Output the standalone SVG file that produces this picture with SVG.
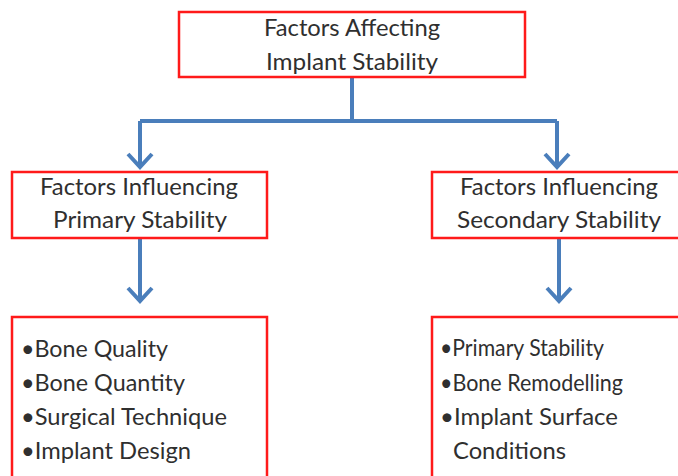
<svg xmlns="http://www.w3.org/2000/svg" width="678" height="476" viewBox="0 0 678 476">
<style>
.box{fill:#fff;stroke:#ff1a1a;stroke-width:2.5}
.t{font-family:Lato,"Open Sans","Liberation Sans",sans-serif;font-size:23.5px;fill:#2f2f2f}
.c{text-anchor:middle}
.ln{fill:none;stroke:#4a7ebb;stroke-width:4}
</style>
<rect width="678" height="476" fill="#fff"/>
<g id="connectors">
<path class="ln" d="M352,77 V121"/>
<path class="ln" d="M140,121 H557"/>
<path class="ln" d="M140,121 V166"/>
<path class="ln" d="M557,121 V166"/>
<path class="ln" d="M128,154 L140,167 L152,154"/>
<path class="ln" d="M545,154 L557,167 L569,154"/>
<path class="ln" d="M140,238 V300"/>
<path class="ln" d="M128,288 L140,301 L152,288"/>
<path class="ln" d="M559,238 V300"/>
<path class="ln" d="M547,288 L559,301 L571,288"/>
</g>
<g id="root">
<rect class="box" x="179" y="12" width="346" height="65"/>
<text class="t c" x="352" y="36" textLength="176" lengthAdjust="spacingAndGlyphs">Factors Affecting</text>
<text class="t c" x="352" y="70" textLength="172" lengthAdjust="spacingAndGlyphs">Implant Stability</text>
</g>
<g id="primary">
<rect class="box" x="12" y="172" width="255" height="66"/>
<text class="t c" x="139" y="195" textLength="198" lengthAdjust="spacingAndGlyphs">Factors Influencing</text>
<text class="t c" x="140" y="228" textLength="174" lengthAdjust="spacingAndGlyphs">Primary Stability</text>
</g>
<g id="secondary">
<rect class="box" x="432" y="172" width="250" height="66"/>
<text class="t c" x="559" y="195" textLength="198" lengthAdjust="spacingAndGlyphs">Factors Influencing</text>
<text class="t c" x="559" y="228" textLength="204" lengthAdjust="spacingAndGlyphs">Secondary Stability</text>
</g>
<g id="primary-list">
<rect class="box" x="12" y="317" width="255" height="170"/>
<text class="t" x="21" y="357" textLength="147" lengthAdjust="spacingAndGlyphs">•Bone Quality</text>
<text class="t" x="21" y="391" textLength="164" lengthAdjust="spacingAndGlyphs">•Bone Quantity</text>
<text class="t" x="21" y="425" textLength="206" lengthAdjust="spacingAndGlyphs">•Surgical Technique</text>
<text class="t" x="21" y="459" textLength="170" lengthAdjust="spacingAndGlyphs">•Implant Design</text>
</g>
<g id="secondary-list">
<rect class="box" x="432" y="317" width="250" height="170"/>
<text class="t" x="440" y="356" textLength="164" lengthAdjust="spacingAndGlyphs">•Primary Stability</text>
<text class="t" x="440" y="391" textLength="183" lengthAdjust="spacingAndGlyphs">•Bone Remodelling</text>
<text class="t" x="440" y="425" textLength="178" lengthAdjust="spacingAndGlyphs">•Implant Surface</text>
<text class="t" x="453" y="459" textLength="113" lengthAdjust="spacingAndGlyphs">Conditions</text>
</g>
</svg>
